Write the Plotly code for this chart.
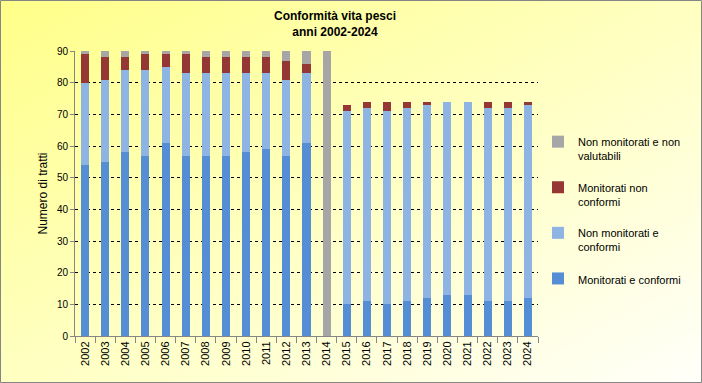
import base64
import plotly.graph_objects as go

years = [str(y) for y in range(2002, 2025)]
monitorati_conformi = [54, 55, 58, 57, 61, 57, 57, 57, 58, 59, 57, 61, 0, 10, 11, 10, 11, 12, 13, 13, 11, 11, 12]
non_monitorati_conformi = [26, 26, 26, 27, 24, 26, 26, 26, 25, 24, 24, 22, 0, 61, 61, 61, 61, 61, 61, 61, 61, 61, 61]
monitorati_non_conformi = [9, 7, 4, 5, 4, 6, 5, 5, 5, 5, 6, 3, 0, 2, 2, 3, 2, 1, 0, 0, 2, 2, 1]
non_monitorati_non_valutabili = [1, 2, 2, 1, 1, 1, 2, 2, 2, 2, 3, 4, 90, 0, 0, 0, 0, 0, 0, 0, 0, 0, 0]

W, H = 702, 383
ml, mr, mt, mb = 75, 164, 51, 47
pw, ph = W - ml - mr, H - mt - mb

FONT = "Liberation Sans, Arial, sans-serif"

series = [
    ("Monitorati e conformi", monitorati_conformi, "#558ED5"),
    ("Non monitorati e<br>conformi", non_monitorati_conformi, "#8DB4E2"),
    ("Monitorati non<br>conformi", monitorati_non_conformi, "#953735"),
    ("Non monitorati e non<br>valutabili", non_monitorati_non_valutabili, "#A6A6A6"),
]

fig = go.Figure()
for i, (name, vals, col) in enumerate(series):
    fig.add_trace(go.Bar(x=years, y=vals, name=name, marker=dict(color=col, line=dict(width=0)),
                         legendgroup=f"g{i}", legendrank=100 - i))

svg = f'''<svg xmlns="http://www.w3.org/2000/svg" width="{W}" height="{H}">
<defs><linearGradient id="g" x1="0" y1="0" x2="1" y2="1">
<stop offset="0" stop-color="#FFFF88"/><stop offset="1" stop-color="#FFFFFA"/></linearGradient></defs>
<rect width="{W}" height="{H}" fill="url(#g)"/></svg>'''
uri = "data:image/svg+xml;base64," + base64.b64encode(svg.encode()).decode()

fig.update_layout(
    width=W, height=H,
    margin=dict(l=ml, r=mr, t=mt, b=mb, autoexpand=False),
    barmode="stack", bargap=0.6,
    paper_bgcolor="rgba(0,0,0,0)", plot_bgcolor="rgba(0,0,0,0)",
    font=dict(family=FONT, size=11, color="#000000"),
    title=dict(text="<b>Conformità vita pesci<br>anni 2002-2024</b>", x=335 / W, xanchor="center",
               y=1 - 20 / H, yanchor="top", xref="container", yref="container",
               font=dict(family=FONT, size=12, color="#000000")),
    showlegend=True,
    legend=dict(traceorder="grouped", x=(538 - ml) / pw, xanchor="left", y=1 - (128 - mt) / ph,
                yanchor="top", bgcolor="rgba(0,0,0,0)", valign="top", tracegroupgap=14,
                font=dict(family=FONT, size=11, color="#000000")),
    images=[dict(source=uri, xref="paper", yref="paper", x=-ml / pw, y=1 + mt / ph,
                 sizex=W / pw, sizey=H / ph, sizing="stretch", xanchor="left", yanchor="top",
                 layer="below")],
    shapes=[dict(type="rect", xref="paper", yref="paper", x0=-(ml - 0.5) / pw, x1=1 + (mr - 0.5) / pw,
                 y0=-(mb - 0.5) / ph, y1=1 + (mt - 0.5) / ph, line=dict(color="#868686", width=1),
                 layer="above")],
)

fig.update_xaxes(type="category", tickangle=-90, showgrid=False, showline=True, linecolor="#868686",
                 linewidth=1, ticks="outside", tickson="boundaries", ticklen=6, tickcolor="#868686",
                 tickfont=dict(family=FONT, size=11, color="#000000"))
fig.update_yaxes(range=[0, 90], dtick=10, showgrid=True, gridcolor="#000000", griddash="dot", gridwidth=1,
                 zeroline=False, showline=True, linecolor="#868686", linewidth=1, ticks="outside",
                 ticklen=4, tickcolor="#868686", tickfont=dict(family=FONT, size=10, color="#000000"),
                 title=dict(text="Numero di tratti", font=dict(family=FONT, size=12, color="#000000"),
                            standoff=6))

fig.write_html("out.html", config={"displayModeBar": False},
               post_script="document.body.style.margin='0';")
